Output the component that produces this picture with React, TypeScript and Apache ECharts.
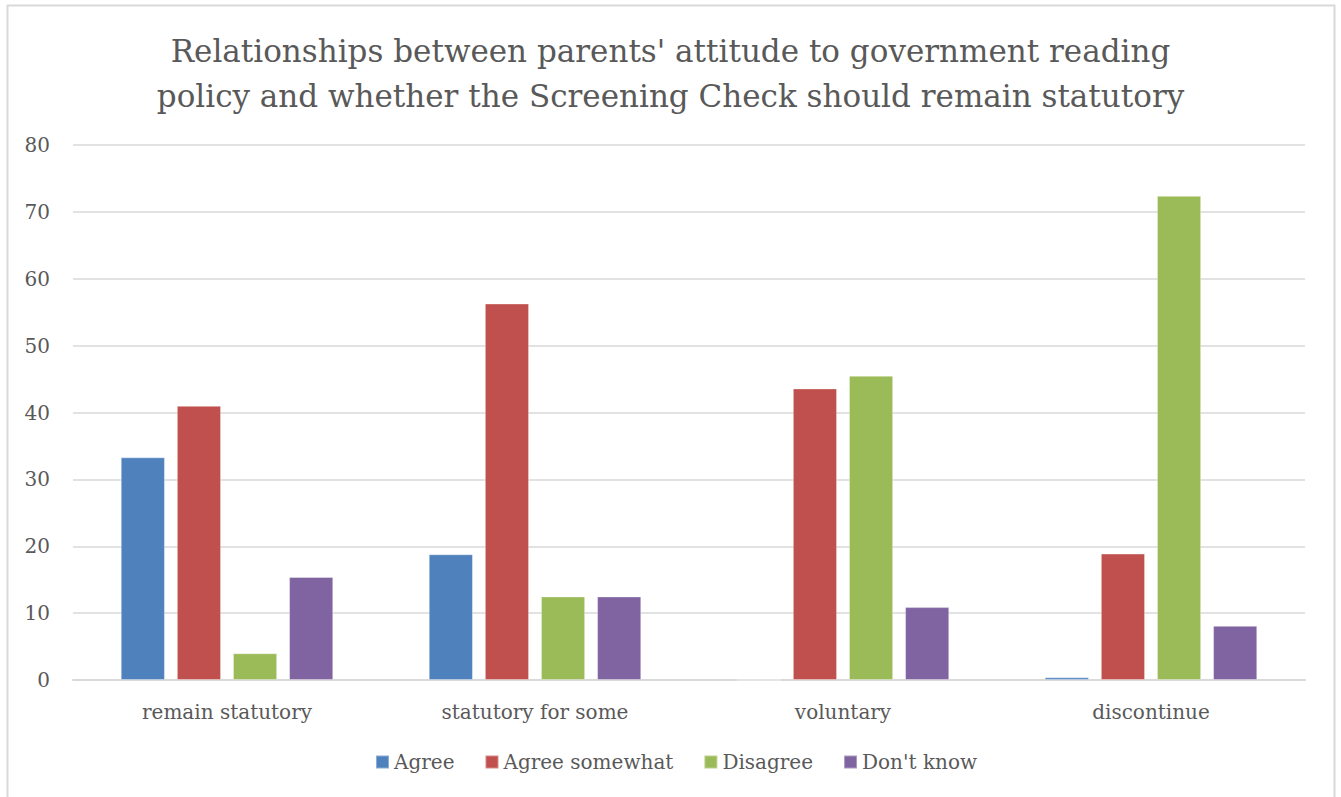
import React, { useEffect, useRef } from "react";
import * as echarts from "echarts";

const categories = ["remain statutory", "statutory for some", "voluntary", "discontinue"];
const seriesNames = ["Agree", "Agree somewhat", "Disagree", "Don't know"];
const agree = [33.3, 18.8, 0, 0.4];
const agreeSomewhat = [41.0, 56.3, 43.6, 18.9];
const disagree = [4.0, 12.5, 45.5, 72.4];
const dontKnow = [15.4, 12.5, 10.9, 8.1];
const colors = ["#4F81BD", "#C0504D", "#9BBB59", "#8064A2"];
const yTicks = { min: 0, max: 80, interval: 10 };
const titleText = "Relationships between parents' attitude to government reading\npolicy and whether the Screening Check should remain statutory";

const FONT = "'DejaVu Serif', 'Liberation Serif', serif";

export default function App() {
  const ref = useRef<HTMLDivElement>(null);
  useEffect(() => {
    document.body.style.margin = "0";
    const chart = echarts.init(ref.current!, null, { renderer: "svg" });
    const values = [agree, agreeSomewhat, disagree, dontKnow];
    chart.setOption({
      animation: false,
      backgroundColor: "#ffffff",
      color: colors,
      textStyle: { fontFamily: FONT },
      title: {
        text: titleText,
        left: "center",
        top: 23,
        textStyle: {
          fontFamily: FONT,
          fontSize: 31,
          fontWeight: "normal",
          color: "#595959",
          lineHeight: 45,
        },
      },
      graphic: [
        {
          type: "rect",
          shape: { x: 7.5, y: 5.5, width: 1327, height: 800 },
          style: { fill: "none", stroke: "#d9d9d9", lineWidth: 2 },
          silent: true,
        },
      ],
      legend: {
        bottom: 20,
        left: 370,
        itemWidth: 13,
        itemHeight: 13,
        itemGap: 30,
        icon: "rect",
        data: seriesNames,
        textStyle: { fontFamily: FONT, fontSize: 20, color: "#595959" },
      },
      grid: { left: 73, right: 36, top: 145, bottom: 117, containLabel: false },
      xAxis: {
        type: "category",
        data: categories,
        axisLine: { show: true, lineStyle: { color: "#d9d9d9", width: 2 } },
        axisTick: { show: false },
        axisLabel: { fontFamily: FONT, fontSize: 20, color: "#595959", margin: 22 },
      },
      yAxis: {
        type: "value",
        min: yTicks.min,
        max: yTicks.max,
        interval: yTicks.interval,
        axisLine: { show: false },
        axisTick: { show: false },
        axisLabel: { fontFamily: FONT, fontSize: 20, color: "#595959", margin: 23 },
        splitLine: { lineStyle: { color: "#d9d9d9", width: 1.5 } },
      },
      series: seriesNames.map((name, i) => ({
        name,
        type: "bar",
        data: values[i],
        barGap: "27%",
        barCategoryGap: "31%",
        itemStyle: { color: colors[i], borderColor: "rgba(255,255,255,0.35)", borderWidth: 1 },
      })),
    });
    return () => chart.dispose();
  }, []);
  return <div ref={ref} style={{ width: 1341, height: 797 }} />;
}
